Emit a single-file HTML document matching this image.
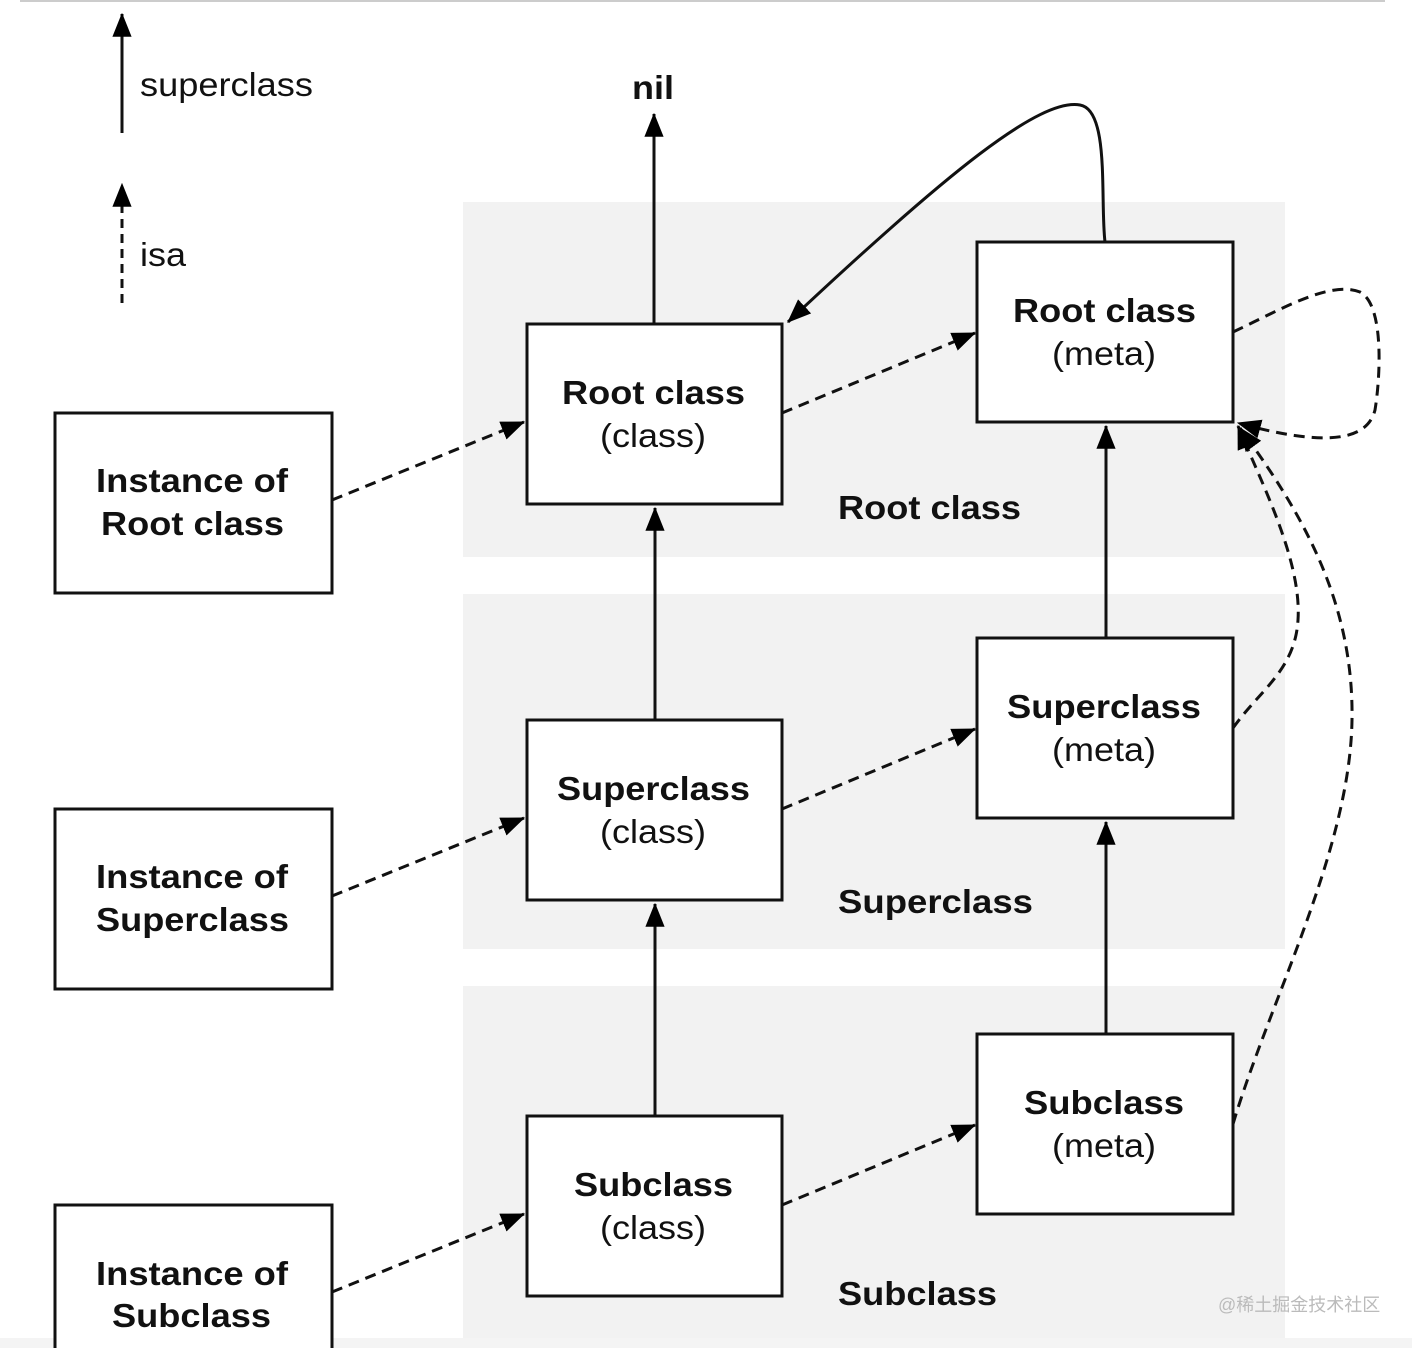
<!DOCTYPE html>
<html><head><meta charset="utf-8"><style>
html,body{margin:0;padding:0;background:#fff}
svg{display:block}
text{font-family:"Liberation Sans",Arial,sans-serif;fill:#111}
.b{font-weight:bold;font-size:33px}
.r{font-size:33px}
</style></head><body>
<svg width="1412" height="1348" viewBox="0 0 1412 1348" xmlns="http://www.w3.org/2000/svg">
<defs>
<marker id="h" viewBox="0 0 20 20" refX="19" refY="10" markerWidth="24" markerHeight="24" orient="auto" markerUnits="userSpaceOnUse"><path d="M0,2 L20,10 L0,18 z" fill="#000"/></marker>
</defs>
<line x1="20" y1="1" x2="1385" y2="1" stroke="#ccc" stroke-width="2"/>
<rect x="463" y="202" width="822" height="355" fill="#f2f2f2"/>
<rect x="463" y="594" width="822" height="355" fill="#f2f2f2"/>
<rect x="463" y="986" width="822" height="362" fill="#f2f2f2"/>
<rect x="0" y="1338" width="1412" height="10" fill="#f4f4f4"/>

<g fill="#fff" stroke="#111" stroke-width="3">
<rect x="527" y="324" width="255" height="180"/>
<rect x="527" y="720" width="255" height="180"/>
<rect x="527" y="1116" width="255" height="180"/>
<rect x="977" y="242" width="256" height="180"/>
<rect x="977" y="638" width="256" height="180"/>
<rect x="977" y="1034" width="256" height="180"/>
<rect x="55" y="413" width="277" height="180"/>
<rect x="55" y="809" width="277" height="180"/>
<rect x="55" y="1205" width="277" height="160"/>
</g>

<g stroke="#111" stroke-width="3" fill="none">
<line x1="122" y1="133" x2="122" y2="14" marker-end="url(#h)"/>
<line x1="122" y1="303" x2="122" y2="184" stroke-dasharray="9,6" marker-end="url(#h)"/>
<line x1="654" y1="324" x2="654" y2="114" marker-end="url(#h)"/>
<line x1="655" y1="720" x2="655" y2="508" marker-end="url(#h)"/>
<line x1="655" y1="1116" x2="655" y2="904" marker-end="url(#h)"/>
<line x1="1106" y1="638" x2="1106" y2="426" marker-end="url(#h)"/>
<line x1="1106" y1="1034" x2="1106" y2="822" marker-end="url(#h)"/>
<path d="M1105,242 C1100,200 1110,110 1080,105 C1040,98 950,170 788,322" marker-end="url(#h)"/>
<g stroke-dasharray="11,7">
<line x1="332" y1="500" x2="524" y2="422" marker-end="url(#h)"/>
<line x1="332" y1="896" x2="524" y2="818" marker-end="url(#h)"/>
<line x1="332" y1="1292" x2="524" y2="1214" marker-end="url(#h)"/>
<line x1="782" y1="413" x2="975" y2="333" marker-end="url(#h)"/>
<line x1="782" y1="809" x2="975" y2="729" marker-end="url(#h)"/>
<line x1="782" y1="1205" x2="975" y2="1125" marker-end="url(#h)"/>
<path d="M1233,332 C1280,310 1330,280 1360,292 C1385,305 1380,380 1375,410 C1365,450 1300,440 1238,423" marker-end="url(#h)"/>
<path d="M1233,728 C1260,690 1295,670 1298,620 C1302,560 1260,480 1238,426" marker-end="url(#h)"/>
<path d="M1233,1124 C1270,1000 1350,850 1352,720 C1354,600 1300,510 1240,428" marker-end="url(#h)"/>
</g>
</g>

<text x="140" y="96" class="r" textLength="173" lengthAdjust="spacingAndGlyphs">superclass</text>
<text x="140" y="266" class="r" textLength="46" lengthAdjust="spacingAndGlyphs">isa</text>
<text x="632" y="99" class="b" textLength="42" lengthAdjust="spacingAndGlyphs">nil</text>

<g lengthAdjust="spacingAndGlyphs">
<text x="562" y="404" class="b" textLength="183" lengthAdjust="spacingAndGlyphs">Root class</text>
<text x="600" y="447" class="r" textLength="106" lengthAdjust="spacingAndGlyphs">(class)</text>
<text x="557" y="800" class="b" textLength="193" lengthAdjust="spacingAndGlyphs">Superclass</text>
<text x="600" y="843" class="r" textLength="106" lengthAdjust="spacingAndGlyphs">(class)</text>
<text x="574" y="1196" class="b" textLength="159" lengthAdjust="spacingAndGlyphs">Subclass</text>
<text x="600" y="1239" class="r" textLength="106" lengthAdjust="spacingAndGlyphs">(class)</text>
<text x="1013" y="322" class="b" textLength="183" lengthAdjust="spacingAndGlyphs">Root class</text>
<text x="1052" y="365" class="r" textLength="104" lengthAdjust="spacingAndGlyphs">(meta)</text>
<text x="1007" y="718" class="b" textLength="194" lengthAdjust="spacingAndGlyphs">Superclass</text>
<text x="1052" y="761" class="r" textLength="104" lengthAdjust="spacingAndGlyphs">(meta)</text>
<text x="1024" y="1114" class="b" textLength="160" lengthAdjust="spacingAndGlyphs">Subclass</text>
<text x="1052" y="1157" class="r" textLength="104" lengthAdjust="spacingAndGlyphs">(meta)</text>
<text x="96" y="492" class="b" textLength="192" lengthAdjust="spacingAndGlyphs">Instance of</text>
<text x="101" y="535" class="b" textLength="183" lengthAdjust="spacingAndGlyphs">Root class</text>
<text x="96" y="888" class="b" textLength="192" lengthAdjust="spacingAndGlyphs">Instance of</text>
<text x="96" y="931" class="b" textLength="193" lengthAdjust="spacingAndGlyphs">Superclass</text>
<text x="96" y="1285" class="b" textLength="192" lengthAdjust="spacingAndGlyphs">Instance of</text>
<text x="112" y="1327" class="b" textLength="159" lengthAdjust="spacingAndGlyphs">Subclass</text>
</g>
<text x="838" y="519" class="b" textLength="183" lengthAdjust="spacingAndGlyphs">Root class</text>
<text x="838" y="913" class="b" textLength="195" lengthAdjust="spacingAndGlyphs">Superclass</text>
<text x="838" y="1305" class="b" textLength="159" lengthAdjust="spacingAndGlyphs">Subclass</text>
<text x="1218" y="1311" style="font-size:18px;fill:#bbb;font-family:'Liberation Sans','Noto Sans CJK SC',sans-serif">@稀土掘金技术社区</text>
</svg>
</body></html>
